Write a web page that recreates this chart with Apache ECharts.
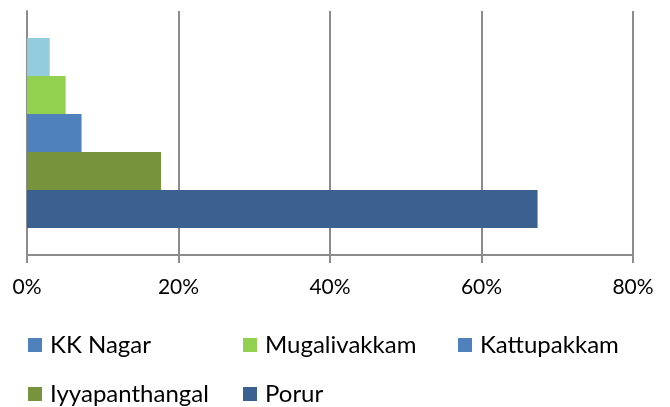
<!DOCTYPE html>
<html><head><meta charset="utf-8">
<script src="https://cdn.jsdelivr.net/npm/echarts@6/dist/echarts.min.js"></script>
<style>html,body{margin:0;padding:0;background:#fff}#c{width:670px;height:407px}</style>
</head><body><div id="c"></div>
<script>
const categories = [''];
const seriesNames = ['KK Nagar', 'Mugalivakkam', 'Kattupakkam', 'Iyyapanthangal', 'Porur'];
const seriesValues = [3.0, 5.1, 7.2, 17.7, 67.4];
const seriesColors = ['#93CDDD', '#92D050', '#4F81BD', '#77933C', '#3A6190'];
const legendOrder = ['KK Nagar', 'Mugalivakkam', 'Kattupakkam', 'Iyyapanthangal', 'Porur'];
const legendSwatch = {'KK Nagar': '#4F81BD'};
const legendPos = [[28, 333], [243, 333], [458, 333], [28, 382], [243, 382]];
const xTicks = [0, 20, 40, 60, 80];

const font = 'Lato, "Liberation Sans", Arial, sans-serif';
const chart = echarts.init(document.getElementById('c'), null, {renderer: 'canvas'});
const series = seriesNames.map((n, i) => ({
  name: n, type: 'bar', data: [seriesValues[i]],
  barWidth: 38, barGap: '0%',
  itemStyle: {color: seriesColors[i]},
  emphasis: {disabled: true}
}));
const legends = legendOrder.map((n, i) => ({
  left: legendPos[i][0], top: legendPos[i][1], padding: 0,
  itemWidth: 14, itemHeight: 14, itemGap: 0,
  icon: 'rect', selectedMode: false,
  textStyle: {fontFamily: font, fontSize: 24, lineHeight: 24, color: '#000', padding: [0, 0, 0, 3]},
  data: [legendSwatch[n] ? {name: n, itemStyle: {color: legendSwatch[n]}} : {name: n}]
}));
chart.setOption({
  animation: false,
  grid: {left: 27, right: 37, top: 11, bottom: 152, containLabel: false},
  legend: legends,
  xAxis: {
    type: 'value', min: xTicks[0], max: xTicks[xTicks.length - 1], interval: 20,
    axisLine: {show: true, lineStyle: {color: '#8c8c8c', width: 2}},
    axisTick: {show: true, length: 8, lineStyle: {color: '#8c8c8c', width: 2}},
    splitLine: {show: true, lineStyle: {color: '#8c8c8c', width: 2}},
    axisLabel: {formatter: v => v + '%', fontFamily: font, fontSize: 21, color: '#000', margin: 22}
  },
  yAxis: {
    type: 'category', data: categories,
    axisLine: {show: true, onZero: false, lineStyle: {color: '#8c8c8c', width: 2}},
    axisTick: {show: false}, axisLabel: {show: false}
  },
  series: series
});
</script></body></html>
